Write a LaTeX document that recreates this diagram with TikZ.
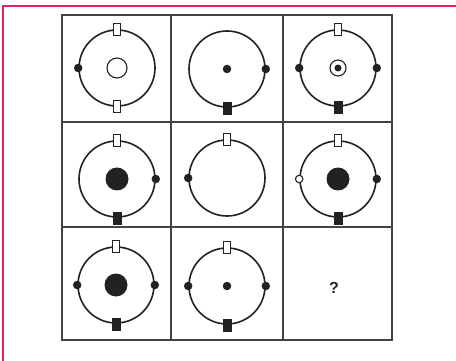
\documentclass[tikz,border=0pt]{standalone}
\usepackage{fontspec}
\setmainfont{Liberation Sans}
\definecolor{frame}{HTML}{E0245E}
\definecolor{ink}{HTML}{222222}
\begin{document}
\begin{tikzpicture}[x=1pt,y=-1pt,
  gridline/.style={draw=ink!85, line width=2.3pt},
  orbit/.style={draw=ink, line width=1.6pt},
  openbox/.style={draw=ink, fill=white, line width=1.1pt, minimum width=6.5pt, minimum height=12pt, inner sep=0pt},
  fillbox/.style={draw=ink, fill=ink, minimum width=8.5pt, minimum height=12pt, inner sep=0pt},
  sidedot/.style={circle, fill=ink, minimum size=8.5pt, inner sep=0pt},
  sideopen/.style={circle, draw=ink, fill=white, line width=1.1pt, minimum size=7.5pt, inner sep=0pt},
  bigdot/.style={circle, fill=ink, minimum size=23pt, inner sep=0pt},
  smalldot/.style={circle, fill=ink, minimum size=8.5pt, inner sep=0pt},
  ring/.style={circle, draw=ink, line width=1.1pt, inner sep=0pt},
  orbitnode/.style={circle, orbit, minimum size=76pt, inner sep=0pt}]
\useasboundingbox (0,0) rectangle (456,361);
\fill[white] (0,0) rectangle (456,361);
% red frame
\draw[frame, line width=1.5pt] (3,361) -- (3,6) -- (456,6);
% grid
\draw[gridline] (62,15) rectangle (392,340);
\draw[gridline] (171,15) -- (171,340);
\draw[gridline] (283,15) -- (283,340);
\draw[gridline] (62,122) -- (392,122);
\draw[gridline] (62,227) -- (392,227);
% cell 1
\node[orbitnode] (o1) at (117,68) {};
\node[ring, minimum size=20pt] (c1) at (o1.center) {};
\node[openbox] (t1) at (o1.north) {};
\node[openbox] (b1) at (o1.south) {};
\node[sidedot] (l1) at (o1.west) {};
% cell 2
\node[orbitnode] (o2) at (227,69) {};
\node[smalldot] (c2) at (o2.center) {};
\node[sidedot] (r2) at (o2.east) {};
\node[fillbox] (b2) at (o2.south) {};
% cell 3
\node[orbitnode] (o3) at (338,68) {};
\node[ring, minimum size=16pt] (c3a) at (o3.center) {};
\node[smalldot, minimum size=7pt] (c3) at (o3.center) {};
\node[openbox] (t3) at (o3.north) {};
\node[sidedot] (l3) at (o3.west) {};
\node[sidedot] (r3) at (o3.east) {};
\node[fillbox] (b3) at (o3.south) {};
% cell 4
\node[orbitnode] (o4) at (117,179) {};
\node[bigdot] (c4) at (o4.center) {};
\node[openbox] (t4) at (o4.north) {};
\node[sidedot] (r4) at (o4.east) {};
\node[fillbox] (b4) at (o4.south) {};
% cell 5
\node[orbitnode] (o5) at (227,178) {};
\node[openbox] (t5) at (o5.north) {};
\node[sidedot] (l5) at (o5.west) {};
% cell 6
\node[orbitnode] (o6) at (338,179) {};
\node[bigdot] (c6) at (o6.center) {};
\node[openbox] (t6) at (o6.north) {};
\node[sideopen] (l6) at (o6.west) {};
\node[sidedot] (r6) at (o6.east) {};
\node[fillbox] (b6) at (o6.south) {};
% cell 7
\node[orbitnode] (o7) at (116,285) {};
\node[bigdot] (c7) at (o7.center) {};
\node[openbox] (t7) at (o7.north) {};
\node[sidedot] (l7) at (o7.west) {};
\node[sidedot] (r7) at (o7.east) {};
\node[fillbox] (b7) at (o7.south) {};
% cell 8
\node[orbitnode] (o8) at (227,286) {};
\node[smalldot] (c8) at (o8.center) {};
\node[openbox] (t8) at (o8.north) {};
\node[sidedot] (l8) at (o8.west) {};
\node[sidedot] (r8) at (o8.east) {};
\node[fillbox] (b8) at (o8.south) {};
% cell 9
\node[text=ink, font=\bfseries\fontsize{16}{18}\selectfont] (q) at (334,288) {?};
\end{tikzpicture}
\end{document}
